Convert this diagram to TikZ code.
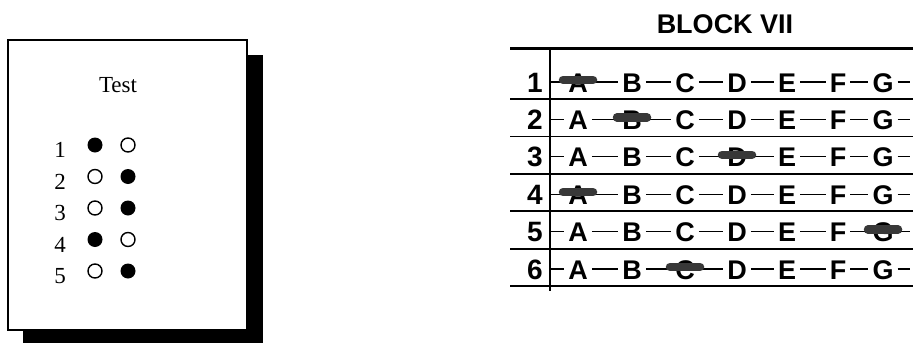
\documentclass[tikz,border=0pt]{standalone}
\usepackage{fontspec}
\newfontfamily\arialfont{Liberation Sans}
\newfontfamily\timesfont{Liberation Serif}
\usetikzlibrary{positioning}

\begin{document}
\begin{tikzpicture}[x=1pt, y=-1pt,
    emptydot/.style={circle, draw, line width=1.4pt, minimum size=14pt, inner sep=0pt},
    filldot/.style={circle, fill, minimum size=15pt, inner sep=0pt},
    sheettext/.style={font=\timesfont\fontsize{23}{23}\selectfont, inner sep=0pt},
    choice/.style={font=\arialfont\bfseries\fontsize{27}{27}\selectfont, inner xsep=4pt, inner ysep=0pt, text height=20pt, text depth=0pt},
    rownum/.style={font=\arialfont\bfseries\fontsize{28}{28}\selectfont, inner sep=0pt, text height=20pt, text depth=0pt},
    blot/.style={line width=8.5pt, line cap=round, black!78}]
  \useasboundingbox (0,0) rectangle (913,343);
  % Answer sheet with its shadow
  \fill (23,55) rectangle (263,343);
  \draw[fill=white, line width=1.5pt] (8,40) rectangle (247,330);
  \node[sheettext] (title) at (118,85) {Test};
  \foreach \i/\a/\b in {1/filldot/emptydot, 2/emptydot/filldot, 3/emptydot/filldot,
                        4/filldot/emptydot, 5/emptydot/filldot} {
    \pgfmathsetmacro\dy{145+31.5*(\i-1)}
    \node[sheettext] (num\i) at (60,\dy+5) {\i};
    \node[\a] (left\i) at (95,\dy) {};
    \node[\b] (right\i) at (128,\dy) {};
  }
  % Block VII
  \node[font=\arialfont\bfseries\fontsize{27}{27}\selectfont] (block) at (725,24) {BLOCK VII};
  \draw[line width=3pt] (510,48) -- (913,48);
  \draw[line width=2pt] (550,48) -- (550,291);
  \foreach \r/\m in {1/A, 2/B, 3/D, 4/A, 5/G, 6/C} {
    \pgfmathsetmacro\ly{99+37.4*(\r-1)}
    \pgfmathsetmacro\ry{\ly-17}
    \draw[line width=1.8pt] (510,\ly) -- (913,\ly);
    \node[rownum] (n\r) at (535,\ry) {\r};
    \coordinate (s\r) at (550,\ry);
    \coordinate (e\r) at (910,\ry);
    \foreach \l/\x in {A/578, B/632, C/685, D/737, E/787, F/838, G/883}
      \node[choice] (\l\r) at (\x,\ry) {\l};
    \draw[line width=1.3pt] (s\r) -- (A\r.west) (A\r.east) -- (B\r.west)
      (B\r.east) -- (C\r.west) (C\r.east) -- (D\r.west) (D\r.east) -- (E\r.west)
      (E\r.east) -- (F\r.west) (F\r.east) -- (G\r.west) (G\r.east) -- (e\r);
    \draw[blot] ([xshift=-15pt, yshift=2pt]\m\r.center) -- ([xshift=15pt, yshift=2pt]\m\r.center);
  }
\end{tikzpicture}
\end{document}
